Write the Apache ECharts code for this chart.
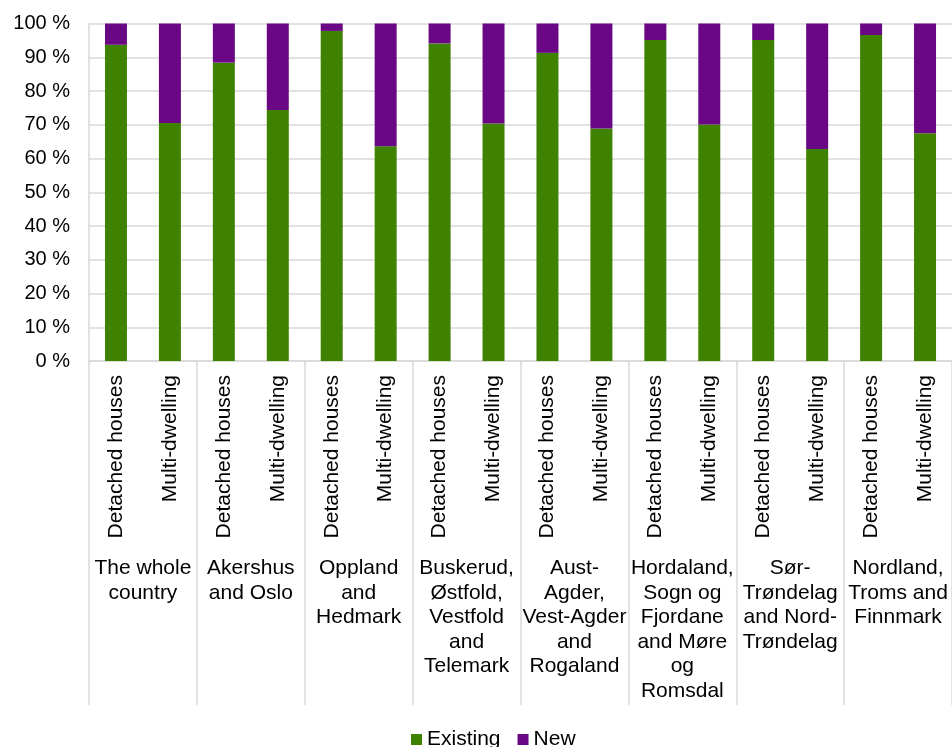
<!DOCTYPE html>
<html>
<head>
<meta charset="utf-8">
<script src="https://cdn.jsdelivr.net/npm/echarts@6/dist/echarts.min.js"></script>
<style>
  html, body { margin: 0; padding: 0; background: #fff; }
  #chart { width: 952px; height: 747px; }
</style>
</head>
<body>
<div id="chart"></div>
<script>
// building types, one bar each per region
const types = [
  'Detached houses', 'Multi-dwelling', 'Detached houses', 'Multi-dwelling',
  'Detached houses', 'Multi-dwelling', 'Detached houses', 'Multi-dwelling',
  'Detached houses', 'Multi-dwelling', 'Detached houses', 'Multi-dwelling',
  'Detached houses', 'Multi-dwelling', 'Detached houses', 'Multi-dwelling'
];
const regions = [
  'The whole\ncountry',
  'Akershus\nand Oslo',
  'Oppland\nand\nHedmark',
  'Buskerud,\nØstfold,\nVestfold\nand\nTelemark',
  'Aust-\nAgder,\nVest-Agder\nand\nRogaland',
  'Hordaland,\nSogn og\nFjordane\nand Møre\nog\nRomsdal',
  'Sør-\nTrøndelag\nand Nord-\nTrøndelag',
  'Nordland,\nTroms and\nFinnmark'
];
// share in percent
const existing = [93.7, 70.5, 88.4, 74.4, 97.8, 63.6, 94.1, 70.4, 91.3, 68.9, 95.1, 70.1, 95.1, 62.8, 96.6, 67.5];
const newShare = [6.3, 29.5, 11.6, 25.6, 2.2, 36.4, 5.9, 29.6, 8.7, 31.1, 4.9, 29.9, 4.9, 37.2, 3.4, 32.5];

const font = 'Liberation Sans, Arial, sans-serif';
const grey = '#d9d9d9';

const chart = echarts.init(document.getElementById('chart'));

const option = {
  animation: false,
  textStyle: { fontFamily: font },
  grid: { left: 89, right: 0, top: 23.5, bottom: 386 },
  legend: {
    data: ['Existing', 'New'],
    left: 406,
    top: 724,
    icon: 'rect',
    itemWidth: 11,
    itemHeight: 11,
    itemGap: 17,
    textStyle: { fontSize: 21, color: '#000', fontFamily: font }
  },
  xAxis: [
    {
      type: 'category',
      data: types,
      position: 'bottom',
      axisLine: { lineStyle: { color: grey, width: 1.5 } },
      axisTick: { show: false },
      axisLabel: {
        interval: 0,
        rotate: 90,
        margin: 14,
        fontSize: 21,
        color: '#000',
        fontFamily: font
      }
    },
    {
      type: 'category',
      data: regions,
      position: 'bottom',
      offset: 0,
      axisLine: { show: false },
      axisTick: { show: true, length: 344, lineStyle: { color: grey, width: 1.5 } },
      axisLabel: {
        interval: 0,
        margin: 195,
        fontSize: 21,
        lineHeight: 24.5,
        color: '#000',
        fontFamily: font,
        align: 'center'
      }
    }
  ],
  yAxis: {
    type: 'value',
    min: 0,
    max: 100,
    interval: 10,
    axisLine: { show: true, lineStyle: { color: grey, width: 1.5 } },
    axisTick: { show: false },
    splitLine: { lineStyle: { color: grey, width: 1.5 } },
    axisLabel: {
      formatter: '{value} %',
      margin: 19,
      fontSize: 20,
      color: '#000',
      fontFamily: font
    }
  },
  series: [
    {
      name: 'Existing',
      type: 'bar',
      stack: 'total',
      barWidth: 22,
      itemStyle: { color: '#3f8200' },
      data: existing
    },
    {
      name: 'New',
      type: 'bar',
      stack: 'total',
      barWidth: 22,
      itemStyle: { color: '#6a0785' },
      data: newShare
    }
  ]
};

chart.setOption(option);
</script>
</body>
</html>
